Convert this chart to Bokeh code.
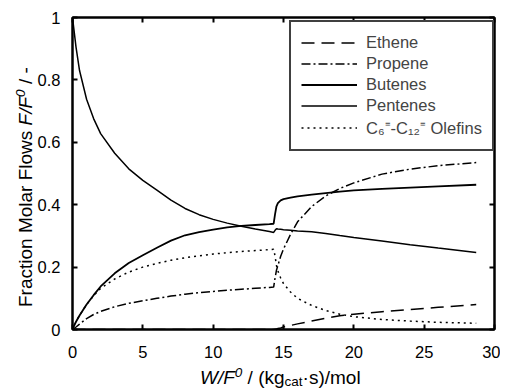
from bokeh.plotting import figure
from bokeh.models import LinearAxis, FixedTicker, Legend, LegendItem, Range1d, Div
from bokeh.layouts import row, column
from bokeh.embed import file_html
from bokeh.resources import INLINE

# W/F0 grid, (kg_cat s)/mol
x = [0, 0.25, 0.5, 1, 1.5, 2, 3, 4, 5, 6, 7, 8, 9, 10, 11, 12, 13, 14, 14.3,
     14.4, 14.5, 14.6, 14.8, 15.0, 15.5, 16, 17, 18, 19, 20, 22, 24, 26, 28.7]

ethene = [0, 0, 0, 0, 0, 0, 0, 0, 0, 0, 0, 0, 0, 0, 0, 0, 0, 0, 0,
          0.001, 0.002, 0.003, 0.005, 0.008, 0.013, 0.018, 0.027, 0.036, 0.044,
          0.049, 0.057, 0.064, 0.071, 0.080]

propene = [0, 0.008, 0.017, 0.035, 0.048, 0.058, 0.073, 0.084, 0.092, 0.1, 0.107,
           0.113, 0.118, 0.122, 0.126, 0.129, 0.132, 0.135, 0.136,
           0.165, 0.19, 0.205, 0.235, 0.258, 0.305, 0.345, 0.394, 0.428, 0.452,
           0.47, 0.498, 0.514, 0.525, 0.535]

butenes = [0, 0.025, 0.045, 0.08, 0.11, 0.138, 0.18, 0.213, 0.238, 0.262, 0.285,
           0.302, 0.312, 0.32, 0.327, 0.332, 0.335, 0.338, 0.339,
           0.37, 0.395, 0.405, 0.414, 0.418, 0.423, 0.427, 0.432, 0.437, 0.442,
           0.446, 0.451, 0.455, 0.459, 0.464]

pentenes = [1.0, 0.905, 0.83, 0.738, 0.676, 0.628, 0.565, 0.515, 0.478, 0.447, 0.415,
            0.388, 0.368, 0.353, 0.341, 0.331, 0.322, 0.314, 0.311,
            0.318, 0.323, 0.322, 0.321, 0.320, 0.318, 0.316, 0.313, 0.308, 0.301,
            0.295, 0.284, 0.272, 0.261, 0.247]

olefins = [0, 0.025, 0.045, 0.08, 0.108, 0.132, 0.162, 0.184, 0.2, 0.212, 0.222,
           0.23, 0.236, 0.242, 0.246, 0.25, 0.253, 0.256, 0.257,
           0.235, 0.205, 0.188, 0.165, 0.147, 0.12, 0.1, 0.077, 0.061, 0.049,
           0.041, 0.032, 0.027, 0.023, 0.020]

series_names = ["Ethene", "Propene", "Butenes", "Pentenes", "C\u2086\u207c-C\u2081\u2082\u207c Olefins"]

x_ticks = [0, 5, 10, 15, 20, 25, 30]
x_tick_labels = ["0", "5", "10", "15", "20", "25", "30"]
y_ticks = [0, 0.2, 0.4, 0.6, 0.8, 1]
y_tick_labels = ["0", "0.2", "0.4", "0.6", "0.8", "1"]

FONT = "Liberation Sans"
YDIV_W = 34
P_W = 500 - YDIV_W
P_H = 369

p = figure(width=P_W, height=P_H, output_backend="svg", toolbar_location=None,
           x_range=Range1d(0, 30), y_range=Range1d(0, 1),
           min_border_left=72 - YDIV_W, min_border_right=6, min_border_top=17,
           min_border_bottom=40, margin=0)
p.grid.visible = False
p.background_fill_color = "white"
p.border_fill_color = "white"
p.outline_line_color = "black"
p.outline_line_width = 2

specs = [
    (ethene, dict(line_dash="13 7", line_width=1.5)),
    (propene, dict(line_dash="9 3 2 3", line_width=1.5)),
    (butenes, dict(line_width=1.8)),
    (pentenes, dict(line_width=1.5)),
    (olefins, dict(line_dash="2 4", line_width=1.5)),
]
items = []
for (ys, st), name in zip(specs, series_names):
    r = p.line(x, ys, line_color="black", **st)
    items.append(LegendItem(label=name, renderers=[r]))

bottom = p.below[0]
left = p.left[0]
bottom.ticker = FixedTicker(ticks=x_ticks)
bottom.major_label_overrides = {t: l for t, l in zip(x_ticks, x_tick_labels)}
left.ticker = FixedTicker(ticks=y_ticks)
left.major_label_overrides = {t: l for t, l in zip(y_ticks, y_tick_labels)}

top = LinearAxis(ticker=FixedTicker(ticks=x_ticks),
                 major_label_overrides={t: "" for t in x_ticks},
                 major_label_text_font_size="1px", major_label_standoff=0)
right = LinearAxis(ticker=FixedTicker(ticks=y_ticks),
                   major_label_overrides={t: "" for t in y_ticks},
                   major_label_text_font_size="1px", major_label_standoff=0)
p.add_layout(top, "above")
p.add_layout(right, "right")

for ax in [bottom, left, top, right]:
    ax.major_tick_in = 5
    ax.major_tick_out = 0
    ax.minor_tick_line_color = None
    ax.major_tick_line_width = 2
    ax.axis_line_width = 2
    ax.axis_line_color = "black"
    ax.major_tick_line_color = "black"
    ax.major_label_text_font = FONT
    ax.major_label_text_color = "black"

for ax in [bottom, left]:
    ax.major_label_text_font_size = "16.5px"
bottom.major_label_standoff = 16
left.major_label_standoff = 12

legend = Legend(items=items, location=(217, 178), margin=0,
                label_text_font=FONT, label_text_font_size="16.5px",
                glyph_width=56, glyph_height=21, label_height=21, label_width=116, spacing=0,
                label_standoff=9, padding=10,
                border_line_color="#404040", border_line_width=2, border_line_alpha=1,
                background_fill_alpha=1)
p.add_layout(legend, "center")

# axis titles as HTML text (italic symbols, super/subscripts)
base = "font-family:'Liberation Sans',Arial,sans-serif;font-size:19px;line-height:19px;white-space:nowrap;color:black;"
sup = "font-size:13.5px;position:relative;top:-7px;"
sub = "font-size:13.5px;position:relative;top:2px;"

xlabel_html = (f"<div style=\"{base}transform:translate(166px,-1px);\">"
               f"<i>W/F</i><span style=\"{sup}\"><i>0</i></span> / (kg"
               f"<span style=\"{sub}\">cat</span>\u00b7s)/mol</div>")
ylabel_html = (f"<div style=\"{base}transform-origin:0 0;transform:translate(16px,307px) rotate(-90deg);\">"
               f"Fraction Molar Flows <i>F/F</i><span style=\"{sup}\"><i>0</i></span> / -</div>")

xdiv = Div(text=xlabel_html, width=P_W, height=390 - P_H, margin=0)
ydiv = Div(text=ylabel_html, width=YDIV_W, height=P_H, margin=0)

layout = row(ydiv, column(p, xdiv, spacing=0), spacing=0)

open("out.html", "w").write(file_html(layout, INLINE))
